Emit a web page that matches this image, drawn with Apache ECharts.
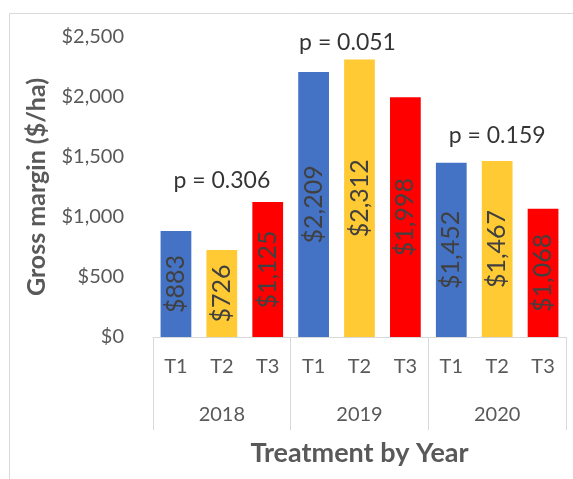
<!DOCTYPE html>
<html>
  <head>
    <title>Gross margin</title>
    <meta charset="utf-8" />
    <script src="https://cdn.jsdelivr.net/npm/echarts@6/dist/echarts.min.js"></script>
    <style>
      body { margin: 0; background: #fff; }
    </style>
  </head>
  <body>
    <div id="main" style="width: 573px;height:479px;"></div>
    <script type="text/javascript">
    // data
    var treatments = ['T1', 'T2', 'T3', 'T1', 'T2', 'T3', 'T1', 'T2', 'T3'];
    var years = ['2018', '2019', '2020'];
    var margins = [883, 726, 1125, 2209, 2312, 1998, 1452, 1467, 1068];
    var treatmentColors = ['#4472C4', '#FFCA33', '#FF0000'];
    // p-value notes: category index and height (in $) of each note
    var pLabels = ['p = 0.306', 'p = 0.051', 'p = 0.159'];
    var pIndex = [1, 4, 7];
    var pHeights = [1300, 2450, 1675];
    // the 2019 note sits a little left of its middle bar
    var pShift = [0, -12, 0];

    var font = 'Lato';

    function money(v) {
      return '$' + v.toLocaleString('en-US');
    }

    var barData = margins.map(function (v, i) {
      return { value: v, itemStyle: { color: treatmentColors[i % 3] } };
    });
    var pData = pLabels.map(function (t, i) {
      return {
        value: [pIndex[i], pHeights[i]],
        name: t,
        label: { offset: [pShift[i], 0] }
      };
    });

    var myChart = echarts.init(document.getElementById('main'));
    var option = {
      animation: false,
      textStyle: { fontFamily: font },
      grid: { left: 153, right: 7, top: 37, bottom: 142 },
      graphic: [{
        type: 'rect',
        shape: { x: 9.5, y: 13.5, width: 620, height: 520 },
        style: { fill: null, stroke: '#D9D9D9', lineWidth: 1 }
      }],
      xAxis: [{
        type: 'category',
        data: treatments,
        axisLine: { lineStyle: { color: '#D9D9D9' } },
        axisTick: { show: false },
        axisLabel: { color: '#595959', fontSize: 20, margin: 20 }
      }, {
        type: 'category',
        data: years,
        position: 'bottom',
        axisLine: { show: false },
        axisTick: { show: true, length: 93, lineStyle: { color: '#D9D9D9' } },
        axisLabel: { color: '#595959', fontSize: 20, margin: 68 },
        name: 'Treatment by Year',
        nameLocation: 'middle',
        nameGap: 103,
        nameTextStyle: { color: '#595959', fontSize: 27, fontWeight: 'bold' }
      }],
      yAxis: {
        type: 'value',
        min: 0,
        max: 2500,
        interval: 500,
        splitLine: { show: false },
        axisLine: { show: false },
        axisTick: { show: false },
        axisLabel: { color: '#595959', fontSize: 20, margin: 29, formatter: money },
        name: 'Gross margin ($/ha)',
        nameLocation: 'middle',
        nameGap: 104,
        nameTextStyle: { color: '#595959', fontSize: 25, fontWeight: 'bold' }
      },
      series: [{
        type: 'bar',
        data: barData,
        barCategoryGap: '33%',
        label: {
          show: true,
          position: 'inside',
          rotate: 90,
          color: '#404040',
          fontSize: 25,
          formatter: function (p) { return money(p.value); }
        }
      }, {
        type: 'scatter',
        data: pData,
        symbolSize: 0,
        label: {
          show: true,
          position: 'inside',
          color: '#000',
          fontSize: 23,
          formatter: function (p) { return p.name; }
        }
      }]
    };
    myChart.setOption(option);
    </script>
  </body>
</html>
